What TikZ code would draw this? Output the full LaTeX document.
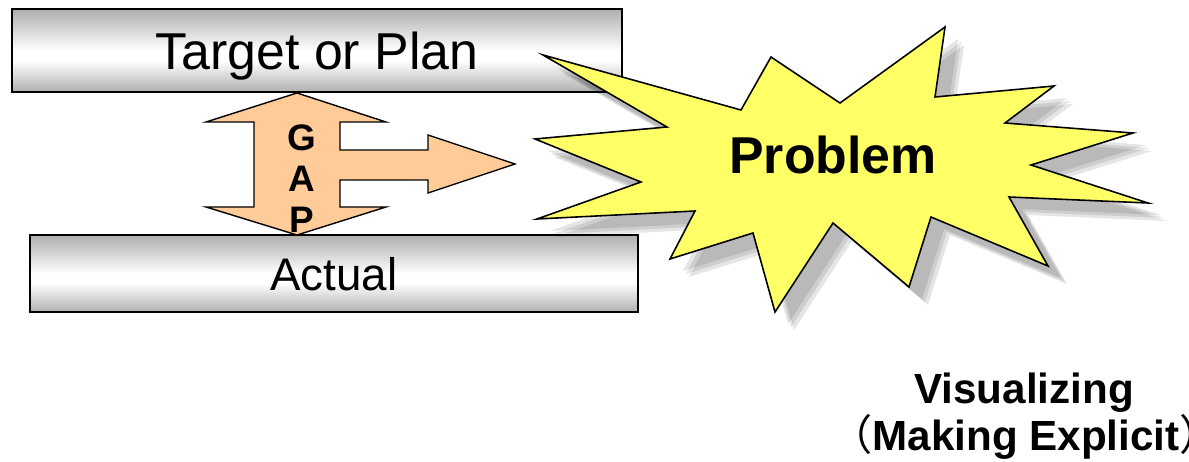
\documentclass[tikz,border=0pt]{standalone}
\usepackage{fontspec}
\setmainfont{Liberation Sans}
\newfontfamily\cjk{Noto Sans CJK SC}
\usepackage{xcolor}
\usepackage{tikz}
\usetikzlibrary{positioning}

\definecolor{gappeach}{HTML}{FFCC99}
\definecolor{burstyellow}{HTML}{FFFF66}
\pgfdeclareverticalshading{barshade}{100bp}{color(0bp)=(gray!62); color(25bp)=(gray!62); color(44bp)=(white); color(50bp)=(white); color(75bp)=(gray!64); color(100bp)=(gray!64)}

\tikzset{
  bar/.style={draw=black, line width=1.1pt, shade, shading=barshade, inner sep=0pt, text depth=0pt},
  burstshadow/.style={preaction={fill=black, opacity=0.1, transform canvas={shift={(#1)}}}},
  caption/.style={font=\bfseries\fontsize{24pt}{28pt}\selectfont, inner sep=0pt}
}

\begin{document}
\begin{tikzpicture}[x=0.02cm, y=-0.02cm]
  \useasboundingbox (0,0) rectangle (1189,462);
  % Balken oben und unten
  \node[bar, minimum width=12.2cm, minimum height=1.66cm,
        font=\fontsize{29.5pt}{34pt}\selectfont] (plan) at (317,50.5) {Target or Plan};
  \node[bar, minimum width=12.16cm, minimum height=1.54cm,
        font=\fontsize{26pt}{30pt}\selectfont] (actual) at (334,273.5) {Actual};
  % GAP-Pfeil
  \draw[fill=gappeach, line width=0.8pt, line join=miter]
    (297,93) -- (386,122) -- (340,122) -- (340,150) -- (428,150) -- (428,135)
    -- (515,164) -- (428,193) -- (428,180) -- (340,180) -- (340,207) -- (386,207)
    -- (297,235) -- (206,207) -- (254,207) -- (254,122) -- (206,122) -- cycle;
  \node[align=center, inner sep=0pt, font=\bfseries\fontsize{21pt}{23.3pt}\selectfont] (gap) at (302,179) {G\\A\\P};
  % Stern
  \draw[fill=burstyellow, line width=0.9pt, line join=miter,
        burstshadow={13,12}, burstshadow={16,15}, burstshadow={19,18}]
    (543,55) -- (741,110) -- (771,57) -- (840,103) -- (945,27) -- (935,97)
    -- (1054,86) -- (1005,123) -- (1133,133) -- (1031,165) -- (1148,203)
    -- (1009,197) -- (1048,266) -- (931,217) -- (909,287) -- (833,223)
    -- (775,312) -- (753,233) -- (670,259) -- (695,211) -- (537,219)
    -- (641,182) -- (535,139) -- (667,127) -- cycle;
  \node[font=\bfseries\fontsize{29.5pt}{34pt}\selectfont, inner sep=0pt] (problem) at (833,155) {Problem};
  % Beschriftung unten rechts
  \node[caption, anchor=base] (visual) at (1024,403) {Visualizing};
  \node[caption, anchor=base west] (explicit) at (830,450) {{\cjk\mdseries （}Making Explicit{\cjk\mdseries ）}};
\end{tikzpicture}
\end{document}
